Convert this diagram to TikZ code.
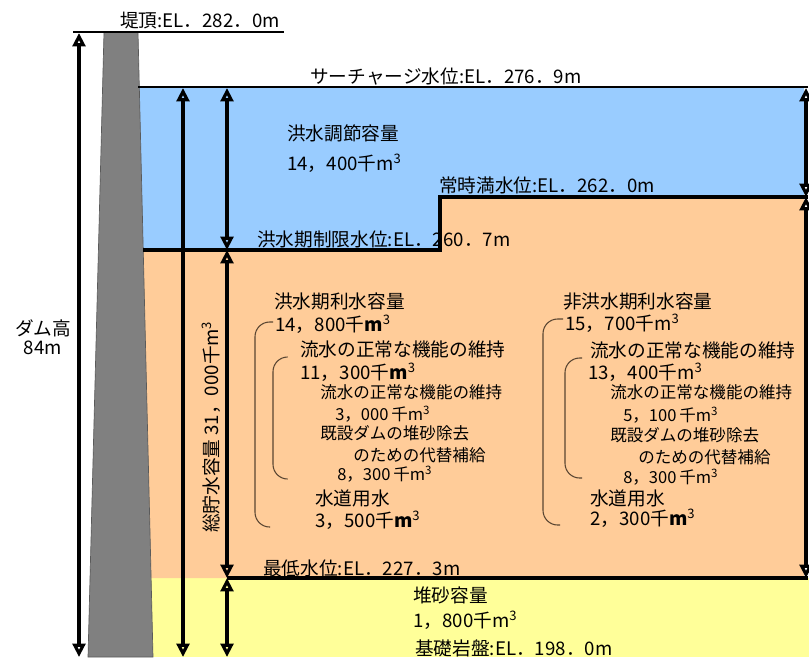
\documentclass[tikz,border=0pt]{standalone}
\usepackage{fontspec}
\setmainfont{Noto Sans CJK JP}
\usetikzlibrary{arrows.meta}

\definecolor{floodblue}{HTML}{99CCFF}
\definecolor{usewater}{HTML}{FFCC99}
\definecolor{sediment}{HTML}{FFFF99}
\definecolor{damgray}{HTML}{808080}
\definecolor{brkcol}{HTML}{5A4632}

\newcommand{\kmt}{千m\textsuperscript{3}}
\newcommand{\kmtb}{千\textbf{m}\textsuperscript{3}}

\tikzset{
  lbl/.style={anchor=west, inner sep=0pt, font=\fontsize{14}{16}\selectfont},
  sublbl/.style={anchor=west, inner sep=0pt, font=\fontsize{12.4}{14}\selectfont},
  dimarrow/.style={line width=2.6pt,
    {Triangle[open,length=10pt,width=9.5pt,line width=2.4pt]}-{Triangle[open,length=10pt,width=9.5pt,line width=2.4pt]}},
  brk/.style={draw=brkcol, line width=0.8pt, rounded corners=11pt},
}

\begin{document}
\begin{tikzpicture}[x=0.75pt, y=-0.75pt]
  \useasboundingbox (0,0) rectangle (809,657);

  % Storage zones
  \fill[sediment] (138,578) rectangle (809,657);
  \fill[usewater] (138,250) -- (440,250) -- (440,197) -- (804,197) -- (804,578) -- (138,578) -- cycle;
  \fill[floodblue] (138,87) -- (804,87) -- (804,197) -- (440,197) -- (440,250) -- (138,250) -- cycle;

  % Dam body
  \draw[fill=damgray, draw=damgray!70!black, line width=0.5pt] (104,32) -- (138,32) -- (153,657) -- (88,657) -- cycle;

  % Water levels
  \draw[line width=1.6pt] (73,32) -- (284,32);
  \draw[line width=1.6pt] (138,87) -- (808,87);
  \draw[line width=2.3pt] (143,250) -- (440,250) -- (440,197) -- (808,197);
  \draw[line width=2.3pt] (227,578) -- (808,578);

  % Dimension points
  \coordinate (hTop) at (79,33);
  \coordinate (hBot) at (79,657);
  \coordinate (tTop) at (183,88);
  \coordinate (tBot) at (183,657);
  \coordinate (fA) at (227,88);
  \coordinate (fB) at (227,250);
  \coordinate (fC) at (227,578);
  \coordinate (fD) at (227,657);
  \coordinate (rA) at (806,88);
  \coordinate (rB) at (806,197);
  \coordinate (rC) at (806,578);

  % Dimension arrows
  \draw[dimarrow] (hTop) -- (hBot);
  \draw[dimarrow] (tTop) -- (tBot);
  \draw[dimarrow] (fA) -- (fB);
  \draw[dimarrow] (fB) -- (fC);
  \draw[dimarrow] (fC) -- (fD);
  \draw[dimarrow] (rA) -- (rB);
  \draw[dimarrow] (rB) -- (rC);

  % Level labels
  \node[lbl] (crest) at (120,21) {堤頂:EL．282．0m};
  \node[lbl] (surcharge) at (310,77) {サーチャージ水位:EL．276．9m};
  \node[lbl] (normal) at (439,185) {常時満水位:EL．262．0m};
  \node[lbl] (floodlim) at (257,239) {洪水期制限水位:EL．260．7m};
  \node[lbl] (minimum) at (263,568) {最低水位:EL．227．3m};
  \node[lbl] (bedrock) at (415,648) {基礎岩盤:EL．198．0m};

  % Flood control
  \node[lbl] (fcName) at (287,133) {洪水調節容量};
  \node[lbl] (fcVal) at (287,163) {14，400\kmt};

  % Dam height and total storage
  \node[inner sep=0pt, font=\fontsize{14}{16}\selectfont] (hName) at (43,328) {ダム高};
  \node[inner sep=0pt, font=\fontsize{14}{16}\selectfont] (hVal) at (43,348) {84m};
  \node[inner sep=0pt, rotate=90, font=\fontsize{14}{16}\selectfont] (total) at (211,427) {総貯水容量\ 31，000\kmt};

  % Flood season usage
  \node[lbl] (fsName) at (274,301) {洪水期利水容量};
  \node[lbl] (fsVal) at (275,324) {14，800\kmtb};
  \node[lbl] (fsFlow) at (300,349) {流水の正常な機能の維持};
  \node[lbl] (fsFlowVal) at (300,372) {11，300\kmtb};
  \node[sublbl] (fsSub1) at (320,392) {流水の正常な機能の維持};
  \node[sublbl] (fsSub1Val) at (335,414) {3，000\,\kmt};
  \node[sublbl] (fsSub2) at (320,433) {既設ダムの堆砂除去};
  \node[sublbl] (fsSub2b) at (353,455) {のための代替補給};
  \node[sublbl] (fsSub2Val) at (337,474) {8，300\,\kmt};
  \node[lbl] (fsSupply) at (315,498) {水道用水};
  \node[lbl] (fsSupplyVal) at (315,520) {3，500\kmtb};

  % Non-flood season usage
  \node[lbl] (nfName) at (563,302) {非洪水期利水容量};
  \node[lbl] (nfVal) at (565,323) {15，700\kmt};
  \node[lbl] (nfFlow) at (590,350) {流水の正常な機能の維持};
  \node[lbl] (nfFlowVal) at (588,372) {13，400\kmt};
  \node[sublbl] (nfSub1) at (610,392) {流水の正常な機能の維持};
  \node[sublbl] (nfSub1Val) at (623,415) {5，100\,\kmt};
  \node[sublbl] (nfSub2) at (610,435) {既設ダムの堆砂除去};
  \node[sublbl] (nfSub2b) at (638,457) {のための代替補給};
  \node[sublbl] (nfSub2Val) at (623,477) {8，300\,\kmt};
  \node[lbl] (nfSupply) at (590,498) {水道用水};
  \node[lbl] (nfSupplyVal) at (590,518) {2，300\kmtb};

  % Sediment
  \node[lbl] (sedName) at (413,595) {堆砂容量};
  \node[lbl] (sedVal) at (413,620) {1，800\kmt};

  % Brackets
  \draw[brk] (273,322) -| (255,527) -- (270,527);
  \draw[brk] (287,357) -| (273,479) -- (287,479);
  \draw[brk] (563,319) -| (543,525) -- (560,525);
  \draw[brk] (582,358) -| (565,478) -- (582,478);
\end{tikzpicture}
\end{document}
